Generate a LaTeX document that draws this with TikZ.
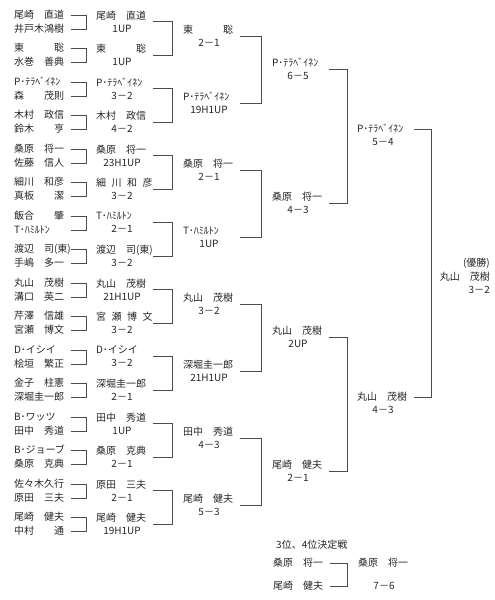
\documentclass[tikz,border=0pt]{standalone}
\usepackage{fontspec}
\newfontfamily\jpfont{Noto Sans CJK JP}

\begin{document}
\begin{tikzpicture}[x=1pt, y=-1pt,
    every node/.style={font=\jpfont\fontsize{10}{13}\selectfont, text=black!85},
    player/.style={inner sep=0pt, outer xsep=4.5pt, text width=52pt, align=left, text height=8pt, text depth=1.5pt},
    cell/.style={inner sep=0pt, outer xsep=4.5pt, text width=52pt, align=center},
    score/.style={inner sep=0pt},
    bracket/.style={draw=black!70, line width=0.75pt}]
    \useasboundingbox (0,0) rectangle (495,600);

    % first round
    \foreach \first/\second [count=\k from 0] in {尾崎　直道/井戸木鴻樹, 東　　　聡/水巻　善典, P･ﾃﾗﾍﾞｲﾈﾝ/森　　茂則, 木村　政信/鈴木　　亨,
        桑原　将一/佐藤　信人, 細川　和彦/真板　　潔, 飯合　　肇/T･ﾊﾐﾙﾄﾝ, 渡辺　司(東)/手嶋　多一,
        丸山　茂樹/溝口　英二, 芹澤　信雄/宮瀬　博文, D･イシイ/桧垣　繁正, 金子　柱憲/深堀圭一郎,
        B･ワッツ/田中　秀道, B･ジョーブ/桑原　克典, 佐々木久行/原田　三夫, 尾崎　健夫/中村　　通}{
        \node[player] (p\k) at (40,15+33.5*\k) {\first};
        \node[player] (q\k) at (40,29+33.5*\k) {\second};
        \draw[bracket] (p\k.east) -- ++(15.5,0) |- (q\k.east);
    }

    % second round
    \foreach \who/\res [count=\k from 0] in {尾崎　直道/1UP, 東　　　聡/1UP, P･ﾃﾗﾍﾞｲﾈﾝ/3－2, 木村　政信/4－2,
        桑原　将一/23H1UP, 細\hspace{.55em}川\hspace{.55em}和\hspace{.55em}彦/3－2, T･ﾊﾐﾙﾄﾝ/2－1, 渡辺　司(東)/3－2,
        丸山　茂樹/21H1UP, 宮\hspace{.55em}瀬\hspace{.55em}博\hspace{.55em}文/3－2, D･イシイ/3－2, 深堀圭一郎/2－1,
        田中　秀道/1UP, 桑原　克典/2－1, 原田　三夫/2－1, 尾崎　健夫/19H1UP}
        \node[cell] (r2-\k) at (122,21.5+33.5*\k) {\makebox[52pt][l]{\who}\\\res};
    \foreach \ia [evaluate=\ia as \ib using int(\ia+1)] in {0,2,...,14}
        \draw[bracket] (r2-\ia.east) -- ++(20,0) |- (r2-\ib.east);

    % third round
    \foreach \who/\res [count=\k from 0] in {東　　　聡/2－1, P･ﾃﾗﾍﾞｲﾈﾝ/19H1UP, 桑原　将一/2－1, T･ﾊﾐﾙﾄﾝ/1UP,
        丸山　茂樹/3－2, 深堀圭一郎/21H1UP, 田中　秀道/4－3, 尾崎　健夫/5－3}
        \node[cell] (r3-\k) at (209,36+67*\k) {\makebox[52pt][l]{\who}\\\res};
    \foreach \ia [evaluate=\ia as \ib using int(\ia+1)] in {0,2,4,6}
        \draw[bracket] (r3-\ia.east) -- ++(21.5,0) |- (r3-\ib.east);

    % quarter final
    \foreach \who/\res [count=\k from 0] in {P･ﾃﾗﾍﾞｲﾈﾝ/6－5, 桑原　将一/4－3, 丸山　茂樹/2UP, 尾崎　健夫/2－1}
        \node[cell] (r4-\k) at (298,69.25+134*\k) {\makebox[52pt][l]{\who}\\\res};
    \foreach \ia [evaluate=\ia as \ib using int(\ia+1)] in {0,2}
        \draw[bracket] (r4-\ia.east) -- ++(18.5,0) |- (r4-\ib.east);

    % final
    \foreach \who/\res [count=\k from 0] in {P･ﾃﾗﾍﾞｲﾈﾝ/5－4, 丸山　茂樹/4－3}{
        \node[player] (r5-\k) at (383,129+268*\k) {\who};
        \node[score] (r5s-\k) at (383,142+268*\k) {\res};
    }
    \draw[bracket] (r5-0.east) -- ++(17.5,0) |- (r5-1.east);
    \node[anchor=east, align=right, inner sep=0pt, font=\jpfont\fontsize{10}{13.5}\selectfont] (champ) at (490,276) {(優勝)\\丸山　茂樹\\3－2};

    % third place match
    \node[anchor=west, inner sep=0pt] (third) at (276,545) {3位、4位決定戦};
    \node[player] (t1) at (299,563) {桑原　将一};
    \node[player] (t2) at (299,586) {尾崎　健夫};
    \draw[bracket] (t1.east) -- ++(17.5,0) |- (t2.east);
    \node[player] (tw) at (384,563) {桑原　将一};
    \node[score] (tws) at (384,586) {7－6};
\end{tikzpicture}
\end{document}
